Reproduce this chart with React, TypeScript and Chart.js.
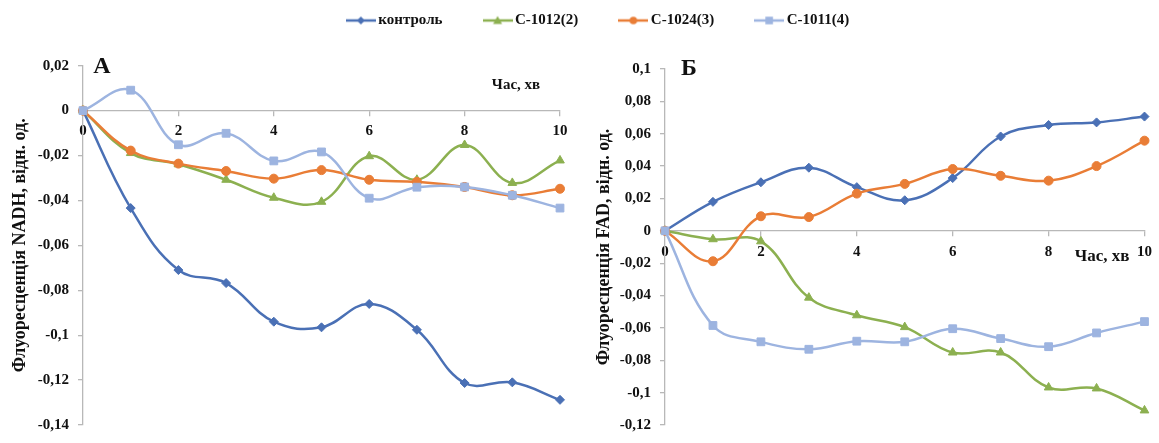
import React, { useEffect, useRef } from 'react';
import { Chart, registerables } from 'chart.js';

Chart.register(...registerables);

// ---------- data ----------
const timeMinutes = [0, 1, 2, 3, 4, 5, 6, 7, 8, 9, 10];
const seriesNames = ['контроль', 'C-1012(2)', 'C-1024(3)', 'C-1011(4)'];

const nadhControl = [0, -0.0434, -0.071, -0.0768, -0.094, -0.0965, -0.0861, -0.0976, -0.1213, -0.121, -0.1288];
const nadhC1012 = [0, -0.0189, -0.0239, -0.0308, -0.0388, -0.0406, -0.0203, -0.0308, -0.0153, -0.0322, -0.0222];
const nadhC1024 = [0, -0.0178, -0.0236, -0.0269, -0.0303, -0.0265, -0.0308, -0.0317, -0.034, -0.0377, -0.0348];
const nadhC1011 = [0, 0.0091, -0.0152, -0.0101, -0.0224, -0.0184, -0.039, -0.0341, -0.034, -0.0377, -0.0434];

const fadControl = [0, 0.0179, 0.03, 0.039, 0.027, 0.0189, 0.0326, 0.0583, 0.0654, 0.067, 0.0706];
const fadC1012 = [0, -0.0052, -0.0065, -0.0413, -0.0522, -0.0595, -0.0752, -0.0752, -0.0968, -0.0974, -0.111];
const fadC1024 = [0, -0.0188, 0.009, 0.0085, 0.023, 0.029, 0.0382, 0.034, 0.031, 0.04, 0.0557];
const fadC1011 = [0, -0.0585, -0.0686, -0.0732, -0.0682, -0.0686, -0.0605, -0.0666, -0.0716, -0.0631, -0.0561];

const nadhAxis = { min: -0.14, max: 0.02, step: 0.02 };
const fadAxis = { min: -0.12, max: 0.1, step: 0.02 };
const timeAxis = { min: 0, max: 10, step: 2 };

const nadhTitle = 'Флуоресценція NADH, відн. од.';
const fadTitle = 'Флуоресценція FAD, відн. од.';
const timeTitle = 'Час, хв';

// ---------- styles ----------
const FAMILY = '"Liberation Serif", "Times New Roman", serif';
const COLORS = ['#4A70B5', '#8CB050', '#E97D36', '#9DB4E0'];
const MARKERS = ['rectRot', 'triangle', 'circle', 'rect'];
const RADII = [4.5, 5, 4.5, 5.5];
const AXIS_COLOR = '#B8B8B8';
const TEXT_COLOR = '#111111';

Chart.defaults.font.family = FAMILY;

const fmt = (v: number) => {
  const r = Math.round(v * 100) / 100;
  if (r === 0) return '0';
  return String(r).replace('.', ',');
};

function pairs(ys: number[]) {
  return timeMinutes.map((x, i) => ({ x, y: ys[i] }));
}

function makeDatasets(series: number[][]) {
  return series.map((ys, i) => ({
    label: seriesNames[i],
    data: pairs(ys),
    borderColor: COLORS[i],
    backgroundColor: COLORS[i],
    borderWidth: 2.5,
    pointStyle: MARKERS[i],
    pointRadius: RADII[i],
    pointBorderWidth: 1,
    pointBorderColor: COLORS[i],
    pointBackgroundColor: COLORS[i],
    tension: 0.4,
    clip: false as const,
    order: 3 - i,
  }));
}

const panelText = {
  id: 'panelText',
  afterDraw(chart: any, _args: any, opts: any) {
    const ctx = chart.ctx;
    ctx.save();
    ctx.fillStyle = TEXT_COLOR;
    ctx.textAlign = 'center';
    ctx.textBaseline = 'middle';
    for (const t of opts.items || []) {
      ctx.font = `bold ${t.size}px ${FAMILY}`;
      ctx.fillText(t.text, t.x, t.y);
    }
    ctx.restore();
  },
};

function panelOptions(cfg: {
  axis: { min: number; max: number; step: number };
  title: string;
  padding: { left: number; top: number; right: number; bottom: number };
  axisWidth: number;
  items: any[];
}) {
  const tickFont = { size: 15, weight: 'bold' as const, family: FAMILY };
  return {
    animation: false as const,
    responsive: false,
    devicePixelRatio: 1,
    layout: { padding: cfg.padding },
    plugins: {
      legend: { display: false },
      tooltip: { enabled: false },
      panelText: { items: cfg.items },
    },
    scales: {
      x: {
        type: 'linear' as const,
        position: { y: 0 },
        min: timeAxis.min,
        max: timeAxis.max,
        ticks: { stepSize: timeAxis.step, font: tickFont, color: TEXT_COLOR, padding: 7, callback: (v: any) => fmt(Number(v)) },
        grid: { drawOnChartArea: false, tickLength: 5, color: AXIS_COLOR, lineWidth: 1.3 },
        border: { color: AXIS_COLOR, width: 1.3 },
      },
      y: {
        type: 'linear' as const,
        position: 'left' as const,
        min: cfg.axis.min,
        max: cfg.axis.max,
        ticks: { stepSize: cfg.axis.step, font: tickFont, color: TEXT_COLOR, padding: 9, callback: (v: any) => fmt(Number(v)) },
        grid: { drawOnChartArea: false, tickLength: 5, color: AXIS_COLOR, lineWidth: 1.3 },
        border: { color: AXIS_COLOR, width: 1.3 },
        title: {
          display: true,
          text: cfg.title,
          color: TEXT_COLOR,
          font: { size: 18, weight: 'bold' as const, family: FAMILY },
          padding: 0,
        },
        afterFit: (s: any) => {
          s.width = cfg.axisWidth;
        },
      },
    },
  };
}

function legendSample(color: string, style: string) {
  const c = document.createElement('canvas');
  c.width = 30;
  c.height = 14;
  const g = c.getContext('2d')!;
  g.strokeStyle = color;
  g.fillStyle = color;
  g.lineWidth = 2.5;
  g.beginPath();
  g.moveTo(0, 7);
  g.lineTo(30, 7);
  g.stroke();
  const cx = 15, cy = 7;
  g.beginPath();
  if (style === 'rectRot') {
    g.moveTo(cx, cy - 4); g.lineTo(cx + 4, cy); g.lineTo(cx, cy + 4); g.lineTo(cx - 4, cy); g.closePath();
  } else if (style === 'triangle') {
    g.moveTo(cx, cy - 4.5); g.lineTo(cx + 4.5, cy + 3.5); g.lineTo(cx - 4.5, cy + 3.5); g.closePath();
  } else if (style === 'circle') {
    g.arc(cx, cy, 3.8, 0, Math.PI * 2);
  } else {
    g.rect(cx - 3.8, cy - 3.8, 7.6, 7.6);
  }
  g.fill();
  return c;
}

export default function App() {
  const legendRef = useRef<HTMLCanvasElement>(null);
  const aRef = useRef<HTMLCanvasElement>(null);
  const bRef = useRef<HTMLCanvasElement>(null);

  useEffect(() => {
    const charts: Chart[] = [];

    charts.push(
      new Chart(legendRef.current!, {
        type: 'line',
        data: {
          labels: [],
          datasets: seriesNames.map((n, i) => ({
            label: n,
            data: [],
            borderColor: COLORS[i],
            backgroundColor: COLORS[i],
            pointStyle: legendSample(COLORS[i], MARKERS[i]) as any,
          })),
        },
        options: {
          animation: false,
          responsive: false,
          devicePixelRatio: 1,
          layout: { padding: { left: 41 } },
          scales: { x: { display: false }, y: { display: false } },
          plugins: {
            tooltip: { enabled: false },
            legend: {
              display: true,
              position: 'top',
              maxHeight: 200,
              labels: {
                usePointStyle: true,
                pointStyleWidth: 20,
                padding: 45,
                color: TEXT_COLOR,
                font: { size: 15, weight: 'bold', family: FAMILY },
              },
            },
          },
        },
      } as any)
    );

    charts.push(
      new Chart(aRef.current!, {
        type: 'line',
        data: { datasets: makeDatasets([nadhControl, nadhC1012, nadhC1024, nadhC1011]) },
        options: panelOptions({
          axis: nadhAxis,
          title: nadhTitle,
          padding: { left: 10, top: 65.7, right: 30, bottom: 9.3 },
          axisWidth: 73,
          items: [
            { text: 'А', x: 102, y: 67, size: 24 },
            { text: timeTitle, x: 516, y: 85, size: 15 },
          ],
        }),
        plugins: [panelText],
      } as any)
    );

    charts.push(
      new Chart(bRef.current!, {
        type: 'line',
        data: { datasets: makeDatasets([fadControl, fadC1012, fadC1024, fadC1011]) },
        options: panelOptions({
          axis: fadAxis,
          title: fadTitle,
          padding: { left: 14, top: 69, right: 8, bottom: 12 },
          axisWidth: 71,
          items: [
            { text: 'Б', x: 109, y: 69, size: 24 },
            { text: timeTitle, x: 522, y: 257, size: 17 },
          ],
        }),
        plugins: [panelText],
      } as any)
    );

    return () => charts.forEach((c) => c.destroy());
  }, []);

  return (
    <div style={{ position: 'fixed', left: 0, top: 0, width: 1159, height: 443, background: '#fff', overflow: 'hidden' }}>
      <canvas ref={legendRef} width={1159} height={400} style={{ position: 'absolute', left: 0, top: -32 }} />
      <canvas ref={aRef} width={590} height={443} style={{ position: 'absolute', left: 0, top: 0 }} />
      <canvas ref={bRef} width={579} height={443} style={{ position: 'absolute', left: 580, top: 0 }} />
    </div>
  );
}
